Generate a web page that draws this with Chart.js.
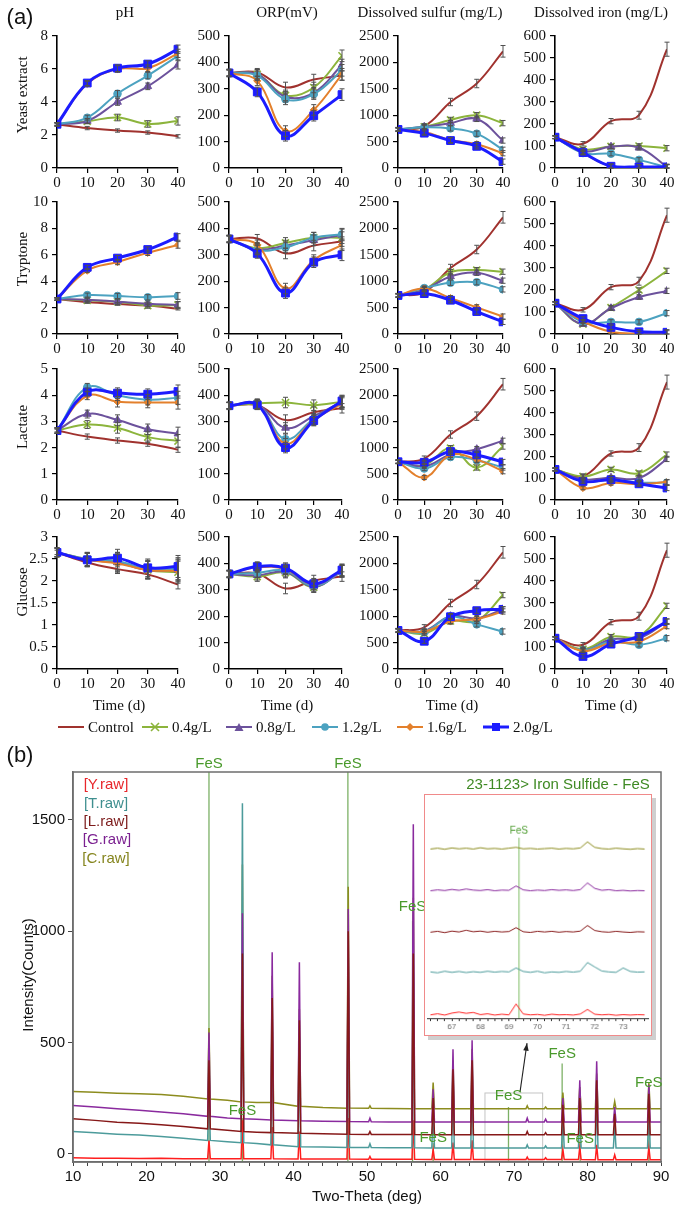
<!DOCTYPE html>
<html>
<head>
<meta charset="utf-8">
<script src="https://cdn.jsdelivr.net/npm/chart.js@4.4.0/dist/chart.umd.min.js"></script>
<style>
  body { margin: 0; background: #fff; width: 675px; height: 1205px; position: relative; overflow: hidden; }
  canvas { position: absolute; }
  .t { position: absolute; white-space: nowrap; transform: translate(-50%, -50%); z-index: 3; color: #111; }
  .serif { font-family: "Liberation Serif", "DejaVu Serif", serif; font-size: 15px; }
  .sans { font-family: "Liberation Sans", Arial, sans-serif; }
  .rot { transform: translate(-50%, -50%) rotate(-90deg); }
  .lg { position: absolute; top: 719px; height: 16px; display: flex; align-items: center; z-index: 3;
        font-family: "Liberation Serif", serif; font-size: 15px; color: #111; }
  .lg svg { margin-right: 3px; }
  #inset { border: 1px solid #f08a8a; box-shadow: 4px 4px 0 #cfcfcf; background: #fff; z-index: 2; }
</style>
</head>
<body>
<div class="t sans" style="left:20px;top:17px;font-size:22px">(a)</div>
<div class="t serif" style="left:125px;top:12px">pH</div>
<div class="t serif" style="left:287px;top:12px">ORP(mV)</div>
<div class="t serif" style="left:430px;top:12px">Dissolved sulfur (mg/L)</div>
<div class="t serif" style="left:601px;top:12px">Dissolved iron (mg/L)</div>
<div class="t serif rot" style="left:22px;top:95px">Yeast extract</div>
<div class="t serif rot" style="left:22px;top:259px">Tryptone</div>
<div class="t serif rot" style="left:22px;top:427px">Lactate</div>
<div class="t serif rot" style="left:22px;top:592px">Glucose</div>
<div class="t serif" style="left:119px;top:705px">Time (d)</div>
<div class="t serif" style="left:287px;top:705px">Time (d)</div>
<div class="t serif" style="left:452px;top:705px">Time (d)</div>
<div class="t serif" style="left:611px;top:705px">Time (d)</div>
<div id="legend"></div>

<div class="t sans" style="left:20px;top:755px;font-size:22px">(b)</div>
<div class="t sans" style="left:106px;top:783px;font-size:15px;color:#e8262b">[Y.raw]</div>
<div class="t sans" style="left:106px;top:802px;font-size:15px;color:#3f8f8f">[T.raw]</div>
<div class="t sans" style="left:106px;top:820px;font-size:15px;color:#7d1c1c">[L.raw]</div>
<div class="t sans" style="left:107px;top:838px;font-size:15px;color:#7b2090">[G.raw]</div>
<div class="t sans" style="left:106px;top:857px;font-size:15px;color:#85851e">[C.raw]</div>
<div class="t sans" style="left:558px;top:783px;font-size:15px;color:#3f8a24">23-1123&gt; Iron Sulfide - FeS</div>
<div class="t sans rot" style="left:27px;top:975px;font-size:15px">Intensity(Counts)</div>
<div class="t sans" style="left:367px;top:1195px;font-size:15px">Two-Theta (deg)</div>

<script>
// ---------- (a) time-course data ----------
const days = [0, 10, 20, 30, 40];
const seriesNames = ['Control', '0.4g/L', '0.8g/L', '1.2g/L', '1.6g/L', '2.0g/L'];

// control is the same in every row
const ctrlPH = [2.65, 2.42, 2.27, 2.15, 1.92];
const ctrlORP = [360, 362, 305, 335, 350];
const ctrlS = [730, 790, 1250, 1600, 2210];
const ctrlFe = [140, 110, 213, 240, 540];
const ctrlPHErr = [0.05, 0.1, 0.1, 0.1, 0.1];
const ctrlORPErr = [15, 15, 20, 20, 18];
const ctrlSErr = [40, 50, 70, 80, 110];
const ctrlFeErr = [8, 10, 12, 18, 32];
const trtPHErr = [0.1, 0.15, 0.2, 0.2, 0.25];
const trtORPErr = [12, 18, 20, 20, 22];
const trtSErr = [30, 40, 50, 50, 50];
const trtFeErr = [6, 8, 10, 10, 12];

// rows of each array: 0.4, 0.8, 1.2, 1.6, 2.0 g/L
const yeastPH = [[2.65, 2.83, 3.06, 2.67, 2.85], [2.65, 2.85, 4.0, 4.95, 6.25], [2.65, 3.05, 4.5, 5.6, 6.8], [2.65, 5.1, 6.0, 6.05, 6.95], [2.65, 5.15, 6.05, 6.3, 7.2]];
const yeastORP = [[360, 355, 275, 305, 425], [360, 355, 270, 285, 390], [360, 350, 260, 280, 370], [360, 330, 140, 220, 355], [360, 288, 122, 198, 278]];
const yeastS = [[730, 780, 910, 1000, 850], [730, 780, 850, 930, 520], [730, 770, 750, 650, 345], [730, 680, 530, 450, 280], [730, 660, 520, 410, 120]];
const yeastFe = [[140, 85, 98, 100, 90], [140, 75, 97, 92, 5], [140, 68, 65, 37, 3], [140, 68, 8, 4, 3], [140, 70, 8, 5, 5]];

const tryPH = [[2.65, 2.55, 2.45, 2.15, 2.2], [2.65, 2.6, 2.45, 2.3, 2.2], [2.65, 2.95, 2.88, 2.78, 2.88], [2.65, 4.8, 5.45, 6.15, 6.75], [2.65, 5.05, 5.75, 6.4, 7.35]];
const tryORP = [[360, 325, 345, 365, 365], [360, 320, 335, 355, 375], [360, 318, 328, 365, 378], [360, 338, 172, 280, 338], [360, 305, 155, 272, 300]];
const tryS = [[730, 840, 1170, 1210, 1180], [730, 840, 1090, 1160, 1010], [730, 870, 970, 980, 845], [730, 860, 680, 505, 330], [730, 765, 640, 425, 230]];
const tryFe = [[140, 45, 120, 200, 287], [140, 45, 117, 168, 196], [140, 55, 55, 55, 95], [140, 58, 10, 2, 3], [140, 70, 30, 10, 8]];

const lacPH = [[2.65, 2.88, 2.75, 2.4, 2.25], [2.65, 3.28, 3.05, 2.7, 2.53], [2.65, 4.3, 4.0, 3.83, 3.9], [2.65, 3.98, 3.75, 3.72, 3.72], [2.65, 4.12, 4.08, 4.04, 4.14]];
const lacORP = [[360, 368, 372, 362, 375], [360, 365, 275, 320, 375], [360, 365, 232, 310, 372], [360, 365, 215, 305, 368], [360, 363, 200, 303, 378]];
const lacS = [[730, 660, 990, 620, 1020], [730, 640, 870, 970, 1130], [730, 600, 820, 760, 620], [730, 430, 860, 770, 550], [730, 720, 925, 860, 725]];
const lacFe = [[140, 108, 140, 123, 208], [140, 95, 102, 100, 188], [140, 85, 92, 80, 80], [140, 55, 78, 73, 82], [140, 85, 93, 74, 55]];

const gluPH = [[2.65, 2.5, 2.45, 2.25, 2.2], [2.65, 2.48, 2.42, 2.25, 2.25], [2.65, 2.5, 2.45, 2.27, 2.28], [2.65, 2.48, 2.4, 2.25, 2.23], [2.65, 2.48, 2.52, 2.3, 2.33]];
const gluORP = [[360, 350, 365, 310, 375], [360, 355, 368, 312, 370], [360, 365, 372, 315, 370], [360, 385, 378, 320, 372], [360, 388, 382, 323, 375]];
const gluS = [[730, 670, 910, 910, 1400], [730, 720, 1000, 960, 1130], [730, 700, 990, 845, 710], [730, 710, 900, 945, 1090], [730, 525, 990, 1105, 1130]];
const gluFe = [[140, 90, 147, 150, 287], [140, 85, 135, 140, 215], [140, 85, 125, 110, 140], [140, 82, 118, 125, 195], [140, 57, 113, 148, 216]];

const phMax = [8, 10, 5, 3];
const phStep = [2, 2, 1, 0.5];

// ---------- (b) XRD data ----------
const xrdBaseX = [10, 13, 16, 19, 22, 25, 28.5, 31, 33.05, 35, 37.1, 40.8, 44, 47.45, 50.4, 53, 56.3, 59, 61.7, 64.3, 68, 71.8, 74.3, 76.65, 78.95, 81.25, 83.7, 86, 88.35, 90];
const xrdPeakX = [28.5, 33.05, 37.1, 40.8, 47.45, 50.4, 56.3, 59, 61.7, 64.3, 71.8, 74.3, 76.65, 78.95, 81.25, 83.7, 88.35];
const baseY = [-18, -20, -20, -21, -20, -22, -22, -22, -22, -22, -22, -23, -24, -24, -25, -25, -25, -26, -26, -26, -26, -26, -26, -26, -26, -27, -27, -27, -27, -27];
const baseT = [100, 94, 88, 84, 78, 70, 60, 54, 50, 46, 40, 32, 30, 28, 28, 27, 27, 26, 26, 26, 26, 26, 26, 26, 26, 26, 26, 26, 26, 26];
const baseL = [157, 150, 142, 137, 130, 122, 112, 106, 100, 97, 95, 92, 90, 88, 87, 86, 86, 85, 85, 85, 85, 85, 85, 85, 85, 85, 85, 85, 85, 85];
const baseG = [217, 210, 202, 195, 188, 180, 168, 161, 157, 155, 152, 148, 146, 145, 144, 143, 143, 143, 143, 143, 143, 143, 143, 143, 143, 143, 143, 143, 143, 143];
const baseC = [280, 276, 272, 270, 266, 258, 246, 240, 233, 230, 230, 213, 208, 205, 204, 203, 202, 202, 202, 202, 202, 202, 202, 202, 202, 202, 202, 202, 202, 202];
const peakY = [60, 150, 120, 100, 160, -12, 150, 20, 50, 60, -15, -18, 20, 30, 40, -5, 30];
const peakT = [300, 1575, 620, 520, 880, 45, 820, 200, 300, 330, 40, 35, 170, 190, 260, 130, 220];
const peakL = [420, 900, 700, 600, 1000, 100, 900, 250, 380, 420, 100, 95, 220, 250, 330, 180, 270];
const peakG = [545, 1080, 905, 860, 1100, 160, 1480, 290, 470, 510, 160, 155, 250, 330, 415, 210, 310];
const peakC = [565, 1300, 800, 650, 1200, 215, 1150, 320, 420, 470, 215, 210, 275, 300, 360, 235, 320];

// FeS reference lines (2-theta, line top in counts, label height in counts; null = above frame)
const fesX = [28.5, 33.05, 47.4, 56.2, 59.0, 69.25, 76.55, 79.0, 88.35];
const fesTop = [1715, 160, 1715, 1045, 50, 210, 405, 50, 290];
const fesLabel = [null, 193, null, 1110, 72, 260, 450, 67, 319];

// inset (66-74 deg), arbitrary offset units
const insetX = [66.25, 66.5, 66.75, 67, 67.25, 67.5, 67.75, 68, 68.25, 68.5, 68.75, 69, 69.25, 69.5, 69.75, 70, 70.25, 70.5, 70.75, 71, 71.25, 71.5, 71.75, 72, 72.25, 72.5, 72.75, 73, 73.25, 73.5, 73.75];
const insetY = [1.5, 2.0, 1.4, 2.3, 2.8, 2.2, 2.6, 1.6, 2.0, 1.4, 1.8, 1.5, 6.5, 1.9, 1.5, 1.7, 1.3, 1.8, 1.5, 1.6, 1.4, 1.9, 4.0, 1.8, 1.5, 1.7, 1.3, 1.6, 1.4, 1.6, 1.5];
const insetT = [21.2, 20.8, 21.5, 21.0, 21.4, 20.9, 21.3, 21.0, 21.5, 21.1, 21.4, 21.2, 23.0, 21.4, 21.0, 21.5, 20.8, 21.2, 21.0, 21.4, 21.1, 21.5, 25.5, 23.5, 21.6, 21.2, 21.0, 23.0, 21.4, 21.1, 21.2];
const insetL = [39.4, 39.8, 39.2, 39.9, 39.5, 40.3, 39.6, 39.9, 39.4, 39.8, 39.5, 39.7, 41.5, 39.6, 39.3, 39.8, 39.5, 39.8, 39.4, 39.7, 39.5, 39.9, 42.5, 40.2, 39.6, 39.4, 39.8, 39.5, 39.3, 39.6, 39.5];
const insetG = [58.4, 58.8, 58.5, 59.0, 58.6, 59.2, 58.7, 58.5, 58.9, 58.4, 58.7, 58.6, 60.6, 58.8, 58.4, 58.7, 58.5, 58.9, 58.6, 58.8, 58.5, 58.9, 62.0, 59.5, 58.6, 58.9, 58.4, 58.6, 58.3, 58.5, 58.4];
const insetC = [77.5, 77.9, 77.4, 78.0, 77.6, 77.9, 77.5, 78.1, 77.6, 77.8, 77.5, 77.9, 78.3, 77.6, 77.8, 77.5, 77.7, 77.9, 77.5, 77.8, 77.6, 78.0, 80.8, 78.3, 77.7, 77.5, 77.9, 77.6, 77.4, 77.7, 77.5];

// ---------- styles / layout ----------
const serif = 'Liberation Serif';
const sans = 'Liberation Sans';
const styles = [
    { color: '#a0322e', point: false, r: 0, w: 2 },
    { color: '#8cb43c', point: 'crossRot', r: 5, w: 2 },
    { color: '#6c529c', point: 'triangle', r: 4.5, w: 2 },
    { color: '#4ca2c0', point: 'circle', r: 3.8, w: 2 },
    { color: '#e3802c', point: 'rectRot', r: 3.6, w: 2 },
    { color: '#1c1cff', point: 'rect', r: 5.5, w: 3 }
];
const colX = [57, 229, 398, 555];
const colEnd = [178, 342, 503, 667];
const rowTop = [33, 199, 366, 534];
const rowBot = [168, 334, 500, 669];
const Y_W = 42, PAD_R = 12, PAD_T = 10, X_H = 24;

Chart.defaults.font.family = serif;
Chart.defaults.color = '#111';

const errorBars = {
    id: 'errorBars',
    afterDatasetsDraw(chart) {
        const { ctx } = chart;
        const ys = chart.scales.y;
        chart.data.datasets.forEach((ds, i) => {
            if (!ds.err) return;
            const meta = chart.getDatasetMeta(i);
            ctx.save();
            ctx.strokeStyle = '#505050';
            ctx.lineWidth = 1;
            meta.data.forEach((pt, j) => {
                const e = ds.err[j];
                if (!e) return;
                const v = ds.data[j].y;
                const y1 = ys.getPixelForValue(v + e);
                const y2 = ys.getPixelForValue(Math.max(v - e, 0));
                ctx.beginPath();
                ctx.moveTo(pt.x, y1); ctx.lineTo(pt.x, y2);
                ctx.moveTo(pt.x - 2.5, y1); ctx.lineTo(pt.x + 2.5, y1);
                ctx.moveTo(pt.x - 2.5, y2); ctx.lineTo(pt.x + 2.5, y2);
                ctx.stroke();
            });
            ctx.restore();
        });
    }
};

function addCanvas(left, top, w, h, id) {
    const cv = document.createElement('canvas');
    cv.width = w; cv.height = h;
    cv.style.left = left + 'px'; cv.style.top = top + 'px';
    cv.style.width = w + 'px'; cv.style.height = h + 'px';
    if (id) cv.id = id;
    document.body.appendChild(cv);
    return cv;
}

function lineDataset(vals, i, err) {
    const s = styles[i];
    return {
        label: seriesNames[i],
        data: vals.map((v, j) => ({ x: days[j], y: v })),
        err: err,
        borderColor: s.color,
        backgroundColor: s.color,
        borderWidth: s.w,
        tension: 0.4,
        pointStyle: s.point,
        pointRadius: s.r,
        pointBorderColor: s.color,
        pointBackgroundColor: s.color,
        pointBorderWidth: s.point === 'crossRot' ? 1.6 : 1,
        order: i === 0 ? 6 : 5 - i
    };
}

function panel(col, row, ctrl, ctrlErr, trt, trtErr, yMax, yStep) {
    const w = (colEnd[col] - colX[col]) + Y_W + PAD_R;
    const h = (rowBot[row] - rowTop[row]) + PAD_T + X_H;
    const cv = addCanvas(colX[col] - Y_W, rowTop[row] - PAD_T, w, h);
    const datasets = [lineDataset(ctrl, 0, ctrlErr)];
    trt.forEach((vals, k) => datasets.push(lineDataset(vals, k + 1, trtErr)));
    const tickFont = { family: serif, size: 15 };
    new Chart(cv, {
        type: 'line',
        data: { datasets },
        options: {
            responsive: false,
            animation: false,
            devicePixelRatio: 1,
            layout: { padding: { left: 0, right: PAD_R, top: PAD_T, bottom: 0 } },
            plugins: { legend: { display: false }, tooltip: { enabled: false } },
            scales: {
                x: {
                    type: 'linear', min: 0, max: 40,
                    afterBuildTicks: s => { s.ticks = days.map(v => ({ value: v })); },
                    ticks: { font: tickFont, color: '#111', padding: 1, maxRotation: 0, callback: v => String(v) },
                    grid: { drawOnChartArea: false, drawTicks: true, tickLength: 5, color: '#000', lineWidth: 1.2 },
                    border: { color: '#000', width: 1.6 },
                    afterFit: s => { s.height = X_H; }
                },
                y: {
                    type: 'linear', min: 0, max: yMax,
                    ticks: { stepSize: yStep, font: tickFont, color: '#111', padding: 4, callback: v => String(v) },
                    grid: { drawOnChartArea: false, drawTicks: true, tickLength: 5, color: '#000', lineWidth: 1.2 },
                    border: { color: '#000', width: 1.6 },
                    afterFit: s => { s.width = Y_W; }
                }
            }
        },
        plugins: [errorBars]
    });
}

const groups = [
    [yeastPH, yeastORP, yeastS, yeastFe],
    [tryPH, tryORP, tryS, tryFe],
    [lacPH, lacORP, lacS, lacFe],
    [gluPH, gluORP, gluS, gluFe]
];
groups.forEach((g, r) => {
    panel(0, r, ctrlPH, ctrlPHErr, g[0], trtPHErr, phMax[r], phStep[r]);
    panel(1, r, ctrlORP, ctrlORPErr, g[1], trtORPErr, 500, 100);
    panel(2, r, ctrlS, ctrlSErr, g[2], trtSErr, 2500, 500);
    panel(3, r, ctrlFe, ctrlFeErr, g[3], trtFeErr, 600, 100);
});

// legend for (a)
const legendX = [58, 142, 226, 312, 397, 483];
const legend = document.getElementById('legend');
styles.forEach((s, i) => {
    const d = document.createElement('div');
    d.className = 'lg';
    d.style.left = legendX[i] + 'px';
    let mark = '';
    if (s.point === 'crossRot') mark = `<path d="M9 2 L17 10 M17 2 L9 10" stroke="${s.color}" stroke-width="1.6"/>`;
    if (s.point === 'triangle') mark = `<polygon points="13,2 17.5,10 8.5,10" fill="${s.color}"/>`;
    if (s.point === 'circle') mark = `<circle cx="13" cy="6" r="3.8" fill="${s.color}"/>`;
    if (s.point === 'rectRot') mark = `<polygon points="13,2 17,6 13,10 9,6" fill="${s.color}"/>`;
    if (s.point === 'rect') mark = `<rect x="9" y="2" width="8" height="8" fill="${s.color}"/>`;
    d.innerHTML = `<svg width="27" height="12"><line x1="0" y1="6" x2="26" y2="6" stroke="${s.color}" stroke-width="${s.w}"/>${mark}</svg>${seriesNames[i]}`;
    legend.appendChild(d);
});

// ---------- (b) XRD ----------
function xrdTrace(base, peaks) {
    const pts = [];
    xrdBaseX.forEach((x, i) => {
        const k = xrdPeakX.indexOf(x);
        if (k < 0) { pts.push({ x, y: base[i] }); return; }
        pts.push({ x: x - 0.18, y: base[i] });
        pts.push({ x, y: peaks[k] });
        pts.push({ x: x + 0.18, y: base[i] });
    });
    return pts;
}
// order: higher number is drawn first (underneath)
const xrdSets = [
    ['Y.raw', '#ff1e1e', baseY, peakY, 4],
    ['T.raw', '#4c9b9b', baseT, peakT, 2],
    ['L.raw', '#861818', baseL, peakL, 0],
    ['G.raw', '#8a2a9e', baseG, peakG, 1],
    ['C.raw', '#8c8c1e', baseC, peakC, 3]
].map(d => ({
    label: d[0], data: xrdTrace(d[2], d[3]), borderColor: d[1], borderWidth: 1.5,
    pointRadius: 0, tension: 0, order: d[4]
}));

const xrdMarks = {
    id: 'xrdMarks',
    beforeDatasetsDraw(chart) {
        const { ctx, chartArea: a } = chart;
        const xs = chart.scales.x, ys = chart.scales.y;
        ctx.save();
        ctx.strokeStyle = 'rgba(80,150,50,0.75)';
        ctx.lineWidth = 1.3;
        fesX.forEach((x, i) => {
            const px = xs.getPixelForValue(x);
            ctx.beginPath();
            ctx.moveTo(px, Math.max(ys.getPixelForValue(fesTop[i]), a.top));
            ctx.lineTo(px, a.bottom);
            ctx.stroke();
        });
        // zoom box
        ctx.strokeStyle = '#c4c4c4';
        ctx.lineWidth = 1;
        const bx1 = xs.getPixelForValue(66.05), bx2 = xs.getPixelForValue(73.9);
        const by1 = ys.getPixelForValue(273), by2 = ys.getPixelForValue(-28);
        ctx.strokeRect(bx1, by1, bx2 - bx1, by2 - by1);
        ctx.restore();
    },
    afterDatasetsDraw(chart) {
        const { ctx, chartArea: a } = chart;
        const xs = chart.scales.x, ys = chart.scales.y;
        ctx.save();
        ctx.strokeStyle = '#6e6e6e';
        ctx.lineWidth = 1.5;
        ctx.strokeRect(a.left, a.top, a.right - a.left, a.bottom - a.top);
        // arrow to inset
        const tx = xs.getPixelForValue(70.82), ty = ys.getPixelForValue(278);
        const hx = xs.getPixelForValue(71.77), hy = ys.getPixelForValue(497);
        ctx.strokeStyle = '#222'; ctx.fillStyle = '#222'; ctx.lineWidth = 1.1;
        ctx.beginPath(); ctx.moveTo(tx, ty); ctx.lineTo(hx, hy); ctx.stroke();
        const ang = Math.atan2(hy - ty, hx - tx);
        ctx.beginPath();
        ctx.moveTo(hx, hy);
        ctx.lineTo(hx - 8 * Math.cos(ang - 0.35), hy - 8 * Math.sin(ang - 0.35));
        ctx.lineTo(hx - 8 * Math.cos(ang + 0.35), hy - 8 * Math.sin(ang + 0.35));
        ctx.closePath(); ctx.fill();
        // FeS labels
        ctx.fillStyle = '#4a9a2c';
        ctx.font = '15px ' + sans;
        ctx.textAlign = 'center';
        ctx.textBaseline = 'middle';
        fesX.forEach((x, i) => {
            const px = xs.getPixelForValue(x);
            const py = fesLabel[i] === null ? a.top - 8 : ys.getPixelForValue(fesLabel[i]);
            ctx.fillText('FeS', px, py);
        });
        ctx.restore();
    }
};

const xrdCv = addCanvas(0, 740, 675, 465);
new Chart(xrdCv, {
    type: 'line',
    data: { datasets: xrdSets },
    options: {
        responsive: false,
        animation: false,
        devicePixelRatio: 1,
        layout: { padding: { left: 0, right: 14, top: 32, bottom: 0 } },
        plugins: { legend: { display: false }, tooltip: { enabled: false } },
        scales: {
            x: {
                type: 'linear', min: 10, max: 90,
                afterBuildTicks: s => { const t = []; for (let v = 10; v <= 90; v += 2) t.push({ value: v }); s.ticks = t; },
                ticks: { font: { family: sans, size: 15 }, color: '#111', autoSkip: false, maxRotation: 0, padding: 2,
                         callback: v => (v % 10 === 0 ? String(v) : '') },
                grid: { drawOnChartArea: false, tickLength: 4, color: '#444' },
                border: { color: '#6e6e6e', width: 1.5 },
                afterFit: s => { s.height = 43; }
            },
            y: {
                type: 'linear', min: -37, max: 1715,
                afterBuildTicks: s => { s.ticks = [0, 500, 1000, 1500].map(v => ({ value: v })); },
                ticks: { font: { family: sans, size: 15 }, color: '#111', padding: 3, callback: v => String(v) },
                grid: { drawOnChartArea: false, tickLength: 5, color: '#444' },
                border: { color: '#6e6e6e', width: 1.5 },
                afterFit: s => { s.width = 73; }
            }
        }
    },
    plugins: [xrdMarks]
});

// inset
const insetMarks = {
    id: 'insetMarks',
    beforeDatasetsDraw(chart) {
        const { ctx, chartArea: a } = chart;
        const px = chart.scales.x.getPixelForValue(69.35);
        ctx.save();
        ctx.strokeStyle = 'rgba(110,180,80,0.6)';
        ctx.lineWidth = 1.5;
        ctx.beginPath(); ctx.moveTo(px, a.top + 38); ctx.lineTo(px, a.bottom); ctx.stroke();
        ctx.fillStyle = '#4a9a2c';
        ctx.font = '10px ' + sans;
        ctx.textAlign = 'center';
        ctx.textBaseline = 'middle';
        ctx.fillText('FeS', px, a.top + 31);
        ctx.restore();
    }
};
const insetCv = addCanvas(424, 794, 228, 242, 'inset');
new Chart(insetCv, {
    type: 'line',
    data: {
        datasets: [
            ['#ff2020', insetY], ['#4c9b9b', insetT], ['#861818', insetL], ['#8a2a9e', insetG], ['#8c8c1e', insetC]
        ].map(d => ({
            data: d[1].map((v, j) => ({ x: insetX[j], y: v })),
            borderColor: d[0], borderWidth: 1, pointRadius: 0, tension: 0
        }))
    },
    options: {
        responsive: false,
        animation: false,
        devicePixelRatio: 1,
        layout: { padding: { left: 2, right: 3, top: 5, bottom: 0 } },
        plugins: { legend: { display: false }, tooltip: { enabled: false } },
        scales: {
            x: {
                type: 'linear', min: 66.13, max: 73.87,
                afterBuildTicks: s => { const t = []; for (let v = 66.25; v <= 73.8; v += 0.25) t.push({ value: v }); s.ticks = t; },
                ticks: { font: { family: sans, size: 8 }, color: '#666', autoSkip: false, maxRotation: 0, padding: 1,
                         callback: v => (Math.abs(v - Math.round(v)) < 0.01 ? String(Math.round(v)) : '') },
                grid: { drawOnChartArea: false, tickLength: 3, color: '#333' },
                border: { color: '#333', width: 1 },
                afterFit: s => { s.height = 17; }
            },
            y: { type: 'linear', min: 0, max: 100, display: false }
        }
    },
    plugins: [insetMarks]
});
</script>
</body>
</html>
